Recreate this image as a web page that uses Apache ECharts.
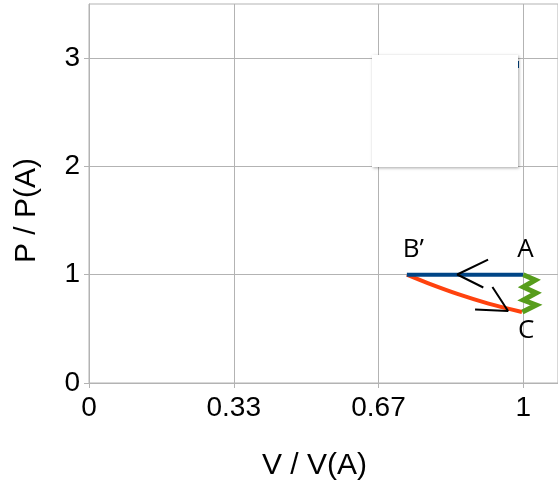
<!DOCTYPE html>
<html><head><meta charset="utf-8">
<script src="https://cdn.jsdelivr.net/npm/echarts@6/dist/echarts.min.js"></script>
<style>html,body{margin:0;padding:0;background:#fff}#c{width:558px;height:487px}</style>
</head><body><div id="c"></div>
<script>
// ---- data ----
const xTickValues = [0, 1/3, 2/3, 1];
const xTickLabels = ['0', '0.33', '0.67', '1'];
const yTickValues = [0, 1, 2, 3];
const yTickLabels = ['0', '1', '2', '3'];

const isobarV = [0.732, 1.0];
const isobarP = [1.0, 1.0];

const adiabatV = [0.732, 0.78, 0.85, 0.92, 0.997];
const adiabatP = [1.0, 0.922, 0.82, 0.733, 0.656];

const isochoreV = [1.0, 1.028, 1.0, 1.03, 1.0, 1.03, 0.998];
const isochoreP = [1.0, 0.951, 0.886, 0.831, 0.766, 0.72, 0.656];

const arrow1V = [0.919, 0.848, 0.908];
const arrow1P = [1.14, 1.002, 0.882];
const arrow2V = [0.929, 0.965, 0.889];
const arrow2P = [0.886, 0.665, 0.679];

const pointNames = ['B\u2019', 'A', 'C'];
const pointV = [0.747, 1.005, 1.007];
const pointP = [1.228, 1.228, 0.48];

const zip = (a, b) => a.map((v, i) => [v, b[i]]);

const chart = echarts.init(document.getElementById('c'));
const grey = '#b3b3b3';
const font = 'Liberation Sans';

function lookup(vals, labels) {
  return function (v) {
    for (let i = 0; i < vals.length; i++) if (Math.abs(v - vals[i]) < 1e-6) return labels[i];
    return '';
  };
}

chart.setOption({
  animation: false,
  backgroundColor: '#fff',
  grid: { left: 89, right: 0, top: 4, bottom: 104, show: true, borderColor: grey, borderWidth: 1, backgroundColor: 'transparent' },
  xAxis: {
    type: 'value', min: 0, max: 1.08, interval: 1/3,
    axisLine: { show: true, onZero: false, lineStyle: { color: grey, width: 1 } },
    axisTick: { show: true, length: 5, lineStyle: { color: grey }, customValues: xTickValues },
    splitLine: { show: true, lineStyle: { color: grey, width: 1 } },
    axisLabel: { customValues: xTickValues, formatter: lookup(xTickValues, xTickLabels), fontFamily: font, fontSize: 28, color: '#000', margin: 11 },
    name: 'V / V(A)', nameLocation: 'middle', nameGap: 68,
    nameTextStyle: { fontFamily: font, fontSize: 30, color: '#000', padding: [0, 18, 0, 0] }
  },
  yAxis: {
    type: 'value', min: 0, max: 3.5, interval: 1,
    axisLine: { show: true, onZero: false, lineStyle: { color: grey, width: 1 } },
    axisTick: { show: true, length: 5, lineStyle: { color: grey }, customValues: yTickValues },
    splitLine: { show: true, lineStyle: { color: grey, width: 1 } },
    axisLabel: { customValues: yTickValues, formatter: lookup(yTickValues, yTickLabels), fontFamily: font, fontSize: 28, color: '#000', margin: 9 },
    name: 'P / P(A)', nameLocation: 'middle', nameGap: 47, nameRotate: 90,
    nameTextStyle: { fontFamily: font, fontSize: 30, color: '#000', padding: [0, 34, 0, 0] }
  },
  series: [
    { type: 'line', data: zip(adiabatV, adiabatP), smooth: 0.3, symbol: 'none', lineStyle: { color: '#ff420e', width: 4 }, z: 3 },
    { type: 'line', data: zip(isobarV, isobarP), symbol: 'none', lineStyle: { color: '#004586', width: 4 }, z: 4 },
    { type: 'line', data: zip(isochoreV, isochoreP), symbol: 'none', lineStyle: { color: '#579d1c', width: 5, join: 'miter' }, z: 4 },
    { type: 'line', data: zip(arrow1V, arrow1P), symbol: 'none', lineStyle: { color: '#000', width: 2 }, z: 5 },
    { type: 'line', data: zip(arrow2V, arrow2P), symbol: 'none', lineStyle: { color: '#000', width: 2 }, z: 5 },
    { type: 'scatter', data: zip(pointV, pointP).map((d, i) => ({ value: d, name: pointNames[i] })), symbolSize: 0, z: 6,
      itemStyle: { color: '#000', opacity: 1 },
      label: { show: true, opacity: 1, position: [0, 0], align: 'center', verticalAlign: 'middle', formatter: p => p.name, fontFamily: 'Open Sans', fontSize: 26, color: '#000000', textBorderWidth: 0 } }
  ],
  graphic: [
    { type: 'rect', left: 372, top: 55, z: 100, shape: { width: 146, height: 112 },
      style: { fill: '#fff', shadowBlur: 3, shadowOffsetX: 1, shadowOffsetY: 1, shadowColor: 'rgba(0,0,0,0.35)' } },
    { type: 'rect', left: 517, top: 61, z: 99, shape: { width: 2, height: 7 }, style: { fill: '#004586' } }
  ]
});
</script>
</body></html>
